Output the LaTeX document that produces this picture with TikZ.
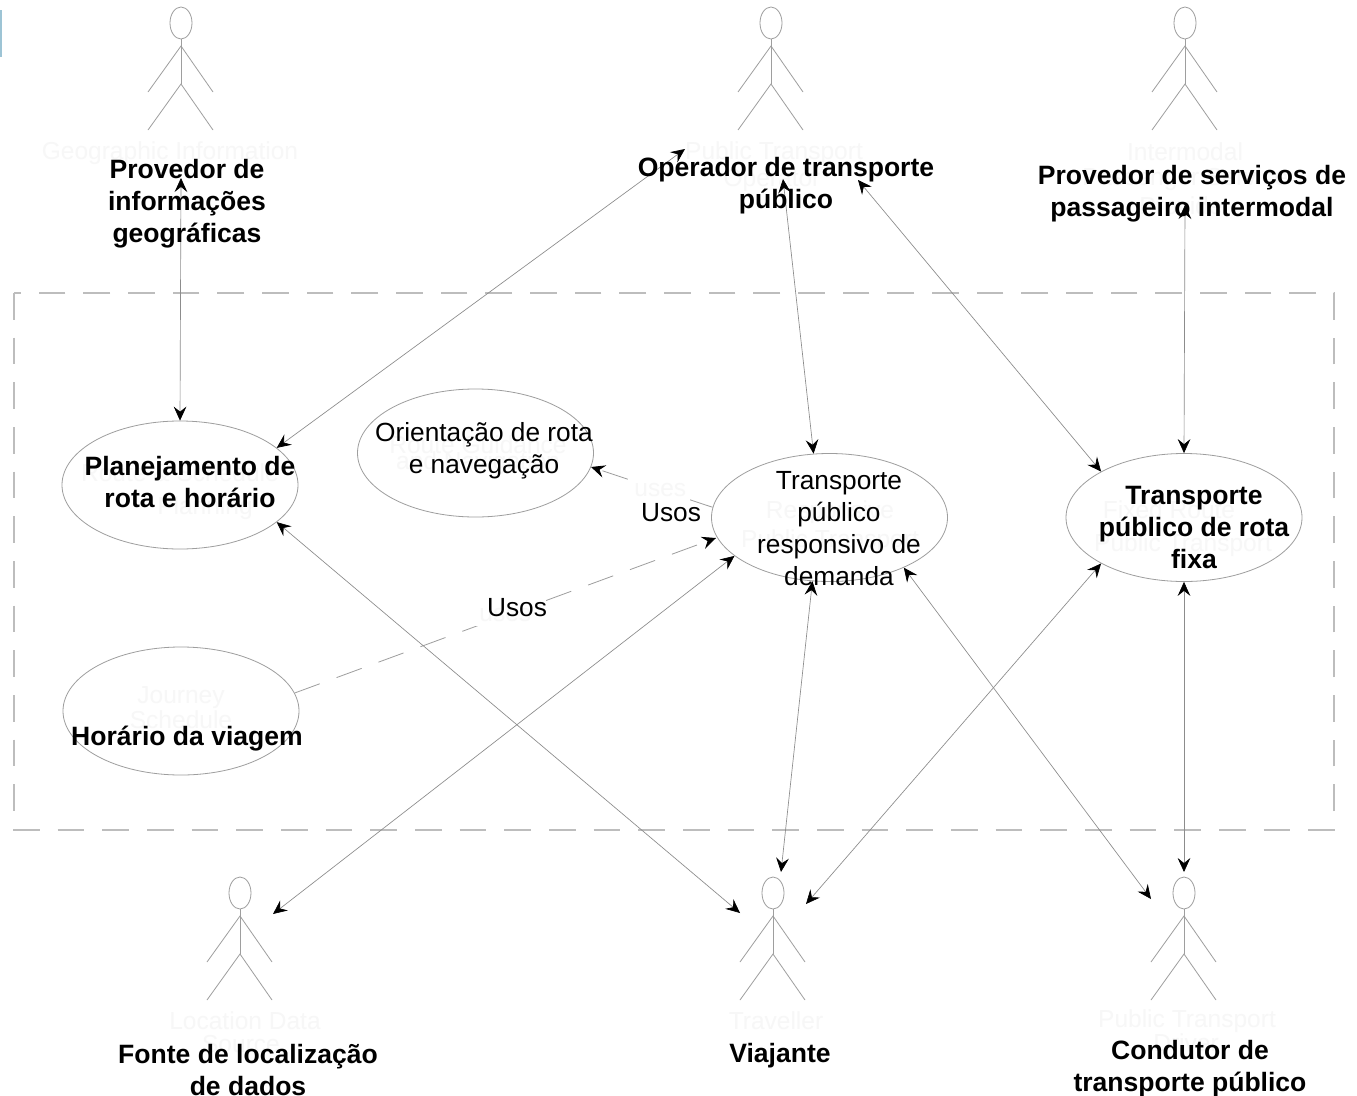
\documentclass[tikz,border=0pt]{standalone}
\usepackage{fontspec}
\setmainfont{Liberation Sans}
\usetikzlibrary{arrows.meta,shapes.geometric,calc}
\newcommand{\actorfig}[3]{%
  \node[actorbox] (#1) at (#2,#3) {};
  \draw[actorline] ([shift={(0,-23)}]#1.center) ellipse [x radius=11,y radius=16];
  \draw[actorline] ([shift={(0,-7)}]#1.center) -- ([shift={(0,38)}]#1.center);
  \draw[actorline] ([shift={(-33,46)}]#1.center) -- ([shift={(0,0)}]#1.center) -- ([shift={(32,46)}]#1.center);
  \draw[actorline] ([shift={(-33,84)}]#1.center) -- ([shift={(0,38)}]#1.center) -- ([shift={(32,84)}]#1.center);
}
\tikzset{
  x=0.75pt,y=-0.75pt,
  actorbox/.style={inner sep=0pt,minimum size=1pt},
  actorline/.style={draw=black!38,line width=0.6pt},
  usecase/.style={ellipse,draw=black!38,line width=0.6pt,inner sep=0pt,minimum width=177pt,minimum height=96pt,fill=white},
  frame/.style={draw=black!26,line width=0.9pt,dash pattern=on 20pt off 13.5pt},
  link/.style={draw=black!45,line width=0.5pt,{Stealth[length=10.5pt,width=9.5pt,inset=3.8pt,black]}-{Stealth[length=10.5pt,width=9.5pt,inset=3.8pt,black]}},
  uselink/.style={draw=black!38,line width=0.6pt,dash pattern=on 20pt off 13.5pt,-{Stealth[length=10.5pt,width=9.5pt,inset=3.8pt,black]}},
  ghost/.style={text=black!3,font=\fontsize{18.4pt}{22pt}\selectfont,align=center,inner sep=0pt},
  ghostcut/.style={ghost,fill=white,inner sep=3pt},
  bold/.style={font=\fontsize{19.9pt}{24pt}\bfseries\selectfont,align=center,inner sep=0pt,text=black},
  plain/.style={font=\fontsize{19.7pt}{24pt}\selectfont,align=center,inner sep=0pt,text=black},
}
\begin{document}
\begin{tikzpicture}
\useasboundingbox (0,0) rectangle (1357,1096);
\fill[white] (0,0) rectangle (1357,1096);
\fill[blue!30!cyan!40!gray!55] (0,10) rectangle (2,57);
\draw[frame] (14,293) rectangle (1334,830);

\actorfig{geo}{181}{46}
\actorfig{oper}{771}{46}
\actorfig{inter}{1185}{46}
\actorfig{loc}{240}{916}
\actorfig{trav}{773}{916}
\actorfig{driv}{1184}{916}

\node[usecase] (plan) at (180,485) {};
\node[usecase] (guide) at (475.5,453) {};
\node[usecase] (demand) at (829.5,517.5) {};
\node[usecase] (journey) at (181,711) {};
\node[usecase] (fixed) at (1184,517.5) {};

\node[ghost] at (170,153) {Geographic Information};
\node[ghost] at (774,153) {Public Transport};
\node[ghost] at (772,180) {Operator};
\node[ghost] at (1185,152) {Intermodal};
\node[ghost] at (1185,179) {Passenger Service};
\node[ghost] at (1185,206) {Provider};
\node[ghost] at (245,1021) {Location Data};
\node[ghost] at (241,1044) {Source};
\node[ghost] at (776,1021) {Traveller};
\node[ghost] at (1187,1021) {Public Transport};
\node[ghost] at (1186,1043) {Driver};
\node[ghost] at (181,698) {Journey};
\node[ghost] at (181,720) {Schedule};
\node[ghost] at (1169,510) {Fixed Route};
\node[ghost] at (1183,545) {Public Transport};
\node[ghost] at (830,512) {Responsive};
\node[ghost] at (830,541) {Public Transport};
\node[ghost] at (478,445) {Route Guidance};
\node[ghost] at (478,463) {and Navigation};
\node[ghost] at (180,473) {Route \& Schedule};
\node[ghost] at (205,508) {Planning};

\draw[uselink] (demand.175) -- node[ghostcut,pos=0.43] (u1) {uses} ([shift={(115.5,14)}]guide.center);
\draw[uselink] (journey.9.4) -- node[ghostcut,pos=0.5] (u2) {uses} ([shift={(-113.5,20.5)}]demand.center);

\draw[link] ([shift={(0,132)}]geo.center) -- (plan.north);
\draw[link] ([shift={(-86,103)}]oper.center) -- (plan.21);
\draw[link] ([shift={(12,133)}]oper.center) -- (demand.104.6);
\draw[link] ([shift={(87,134)}]oper.center) -- (fixed.151);
\draw[link] ([shift={(0,159)}]inter.center) -- (fixed.north);
\draw[link] (plan.-21.7) -- ([shift={(-33,-3)}]trav.center);
\draw[link] ([shift={(33,-2)}]loc.center) -- (demand.202);
\draw[link] (demand.255) -- ([shift={(8,-44)}]trav.center);
\draw[link] (fixed.209) -- ([shift={(33,-12)}]trav.center);
\draw[link] (demand.326.6) -- ([shift={(-33,-17)}]driv.center);
\draw[link] (fixed.south) -- ([shift={(0,-44)}]driv.center);

\node[bold] (geoL) at (187,204) {Provedor de\\informações\\geográficas};
\node[bold] (operL) at (786,186) {Operador de transporte\\público};
\node[bold] (interL) at (1192,194) {Provedor de serviços de\\passageiro intermodal};
\node[bold] (planL) at (190,482) {Planejamento de\\rota e horário};
\node[plain] (guideL) at (484,451) {Orientação de rota\\e navegação};
\node[plain] (demandL) at (839,529) {Transporte\\público\\responsivo de\\demanda};
\node[bold] (fixedL) at (1194,527) {Transporte\\público de rota\\fixa};
\node[bold] (journeyL) at (187,739) {Horário da viagem};
\node[plain] (usoA) at (671,513) {Usos};
\node[plain] (usoB) at (517,608) {Usos};
\node[bold] (locL) at (248,1070) {Fonte de localização\\de dados};
\node[bold] (travL) at (780,1056) {Viajante};
\node[bold] (drivL) at (1190,1069) {Condutor de\\transporte público};
\end{tikzpicture}
\end{document}
